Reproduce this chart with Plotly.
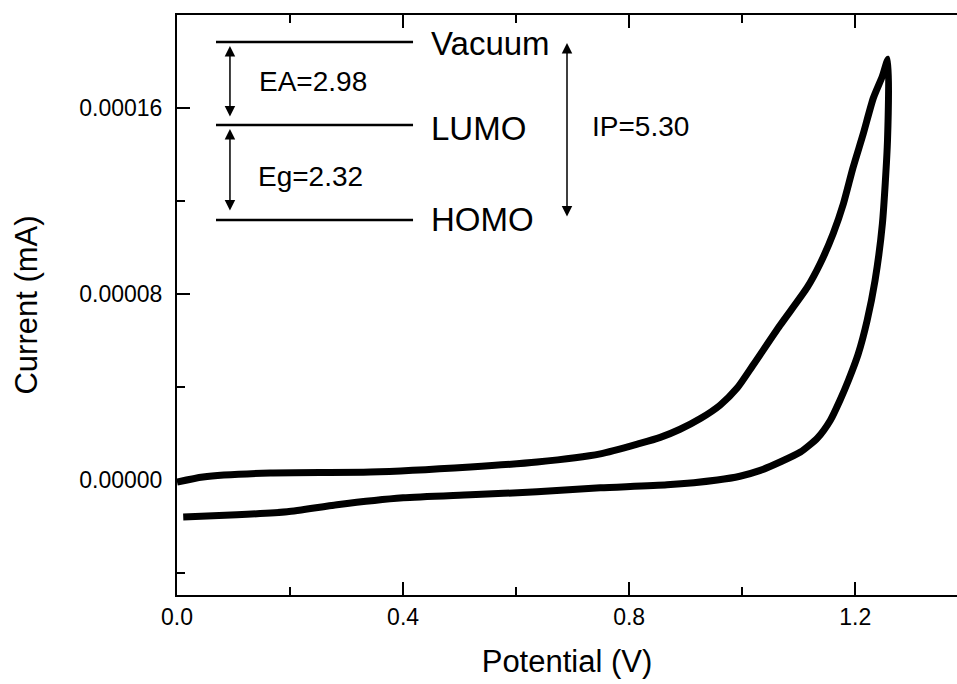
import plotly.graph_objects as go

# Cyclic voltammogram (forward scan then reverse scan)
potential_fwd = [0.0, 0.046, 0.165, 0.342, 0.519, 0.637, 0.749, 0.819, 0.855, 0.890,
                 0.926, 0.961, 0.991, 1.019, 1.067, 1.115, 1.138, 1.161, 1.179, 1.196,
                 1.214, 1.232, 1.248, 1.258]
current_fwd = [-0.0000009, 0.0000013, 0.0000030, 0.0000034, 0.0000056, 0.0000077,
               0.0000112, 0.0000157, 0.0000183, 0.0000218, 0.0000264, 0.0000322,
               0.0000395, 0.0000493, 0.0000665, 0.0000828, 0.0000931, 0.0001060,
               0.0001188, 0.0001343, 0.0001488, 0.0001643, 0.0001737, 0.0001810]
potential_rev = [1.257, 1.248, 1.235, 1.221, 1.205, 1.188, 1.173, 1.156, 1.133, 1.103,
                 1.067, 1.032, 0.996, 0.956, 0.867, 0.749, 0.637, 0.519, 0.400, 0.283,
                 0.195, 0.106, 0.011]
current_rev = [0.0001458, 0.0001102, 0.0000858, 0.0000686, 0.0000540, 0.0000429,
               0.0000343, 0.0000257, 0.0000180, 0.0000120, 0.0000077, 0.0000041,
               0.0000016, 0.0000000, -0.0000021, -0.0000034, -0.0000051, -0.0000064,
               -0.0000077, -0.0000107, -0.0000137, -0.0000150, -0.0000159]

x_ticks = [0.0, 0.4, 0.8, 1.2]
x_ticktext = ["0.0", "0.4", "0.8", "1.2"]
y_ticks = [0.0, 0.00008, 0.00016]
y_ticktext = ["0.00000", "0.00008", "0.00016"]

level_labels = ["Vacuum", "LUMO", "HOMO"]
gap_labels = ["EA=2.98", "Eg=2.32", "IP=5.30"]

FONT = "Arial, Liberation Sans, sans-serif"

fig = go.Figure()
fig.add_trace(go.Scatter(
    x=potential_fwd + potential_rev,
    y=current_fwd + current_rev,
    mode="lines",
    line=dict(color="black", width=7, shape="spline", smoothing=0.6),
    showlegend=False,
    hoverinfo="skip",
))

# energy diagram (paper coordinates of the plot area)
level_y = [0.9534, 0.8103, 0.6466]
for ly in level_y:
    fig.add_shape(type="line", xref="paper", yref="paper",
                  x0=0.050, x1=0.3026, y0=ly, y1=ly,
                  line=dict(color="black", width=2.5))

for lbl, ly in zip(level_labels, [0.951, 0.805, 0.6466]):
    fig.add_annotation(xref="paper", yref="paper", x=0.3235, y=ly, text=lbl,
                       showarrow=False, xanchor="left", yanchor="middle",
                       font=dict(family=FONT, size=33, color="black"))

for lbl, gx, gy in zip(gap_labels, [0.1026, 0.1013, 0.5295], [0.8845, 0.7207, 0.807]):
    fig.add_annotation(xref="paper", yref="paper", x=gx, y=gy, text=lbl,
                       showarrow=False, xanchor="left", yanchor="middle",
                       font=dict(family=FONT, size=28, color="black"))

# double arrows: head at top, tail offset in pixels downward
arrows = [(0.0679, 0.9466, 72), (0.0679, 0.8034, 83), (0.50, 0.9517, 175)]
for axp, ayp, length in arrows:
    fig.add_annotation(xref="paper", yref="paper", x=axp, y=ayp, text="",
                       showarrow=True, ax=0, ay=length, arrowside="end+start",
                       arrowhead=2, arrowsize=1.4, arrowwidth=1.5, arrowcolor="black",
                       standoff=0, startstandoff=0)

axis_common = dict(
    showgrid=False, zeroline=False, showline=True, linecolor="black", linewidth=2,
    ticks="inside", ticklen=13, tickwidth=2, tickcolor="black", automargin=False,
    tickfont=dict(family=FONT, size=23, color="black"),
)

fig.update_xaxes(
    **axis_common,
    range=[0, 1.38],
    tickvals=x_ticks, ticktext=x_ticktext,
    mirror="ticks",
    minor=dict(ticks="inside", ticklen=8, tickwidth=2, tickcolor="black",
               tickvals=[0.2, 0.6, 1.0]),
    title=dict(text="Potential (V)", font=dict(family=FONT, size=31, color="black"),
               standoff=22),
)
fig.update_yaxes(
    **axis_common,
    range=[-0.0000495, 0.0002],
    tickvals=y_ticks, ticktext=y_ticktext,
    minor=dict(ticks="inside", ticklen=8, tickwidth=2, tickcolor="black",
               tickvals=[-0.00004, 0.00004, 0.00012]),
    ticklabelstandoff=8,
    title=dict(text="Current (mA)", font=dict(family=FONT, size=31, color="black"),
               standoff=32),
)

fig.update_layout(
    width=957, height=684,
    margin=dict(l=177, r=0, t=15, b=89),
    paper_bgcolor="white", plot_bgcolor="white",
)

post = ("document.body.style.margin='0px';document.body.style.padding='0px';"
        "document.body.style.overflow='hidden';"
        "document.documentElement.style.overflow='hidden';")
fig.write_html("out.html", post_script=post,
               config={"responsive": False, "displayModeBar": False})
